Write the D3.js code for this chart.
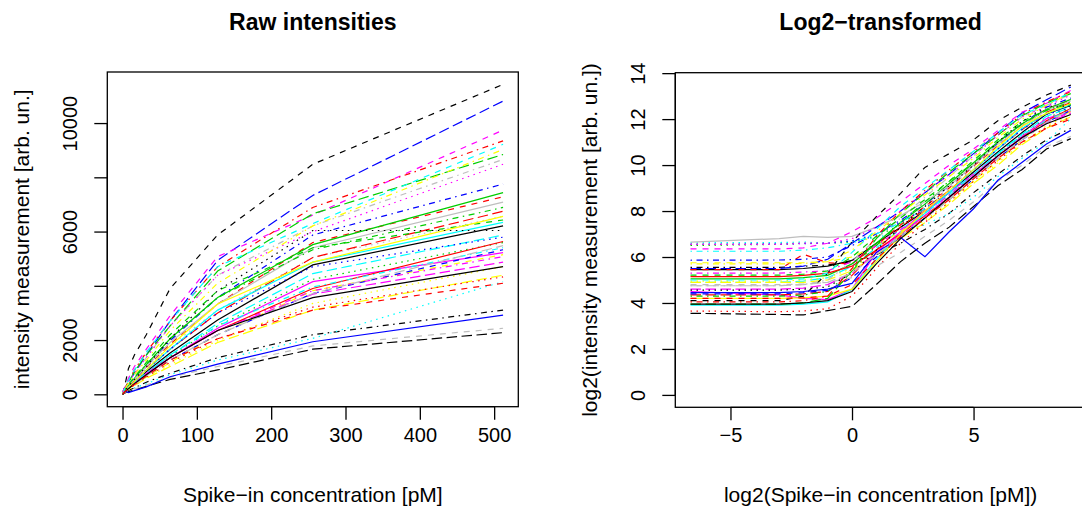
<!DOCTYPE html>
<html>
<head>
<meta charset="utf-8">
<script src="https://cdn.jsdelivr.net/npm/d3@7"></script>
<style>
  body { margin: 0; background: #fff; }
  svg { display: block; font-family: "Liberation Sans", Arial, Helvetica, sans-serif; }
</style>
</head>
<body>
<div id="chart"></div>
<script>
// spike-in concentrations in pM (0 pM is put at 0.01 so it can go on the log2 scale)
const concentrations = [0.01, 0.125, 0.25, 0.5, 1, 2, 4, 8, 16, 32, 64, 128, 256, 512];

// log2 intensities, one row per spike-in probe set, one value per concentration
const log2Intensities = [
  [5.45, 5.45, 5.5, 5.6, 5.85, 6.6, 7.3, 8.0, 8.8, 9.7, 10.57, 11.42, 12.22, 12.60],
  [5.45, 5.45, 6.12, 5.75, 5.7, 6.5, 7.4, 8.2, 9.0, 9.95, 10.85, 11.7, 12.45, 12.83],
  [6.5, 6.55, 6.6, 6.6, 6.65, 6.9, 7.4, 8.0, 8.7, 9.5, 10.45, 11.3, 12.05, 12.45],
  [5.86, 5.87, 5.9, 6.0, 6.5, 7.0, 7.6, 8.3, 9.1, 10.0, 10.95, 11.8, 12.52, 12.92],
  [4.9, 4.9, 4.95, 5.1, 5.6, 6.4, 7.2, 7.9, 8.7, 9.6, 10.5, 11.35, 12.12, 12.52],
  [4.5, 4.35, 4.2, 4.15, 4.6, 6.2, 7.1, 8.0, 8.8, 9.6, 10.4, 11.25, 12.02, 12.35],
  [5.75, 5.75, 5.75, 5.8, 6.0, 6.5, 7.1, 7.8, 8.5, 9.3, 10.2, 11.1, 11.9, 12.33],
  [6.58, 6.6, 6.62, 6.6, 6.7, 7.0, 7.5, 8.2, 9.0, 9.9, 10.8, 11.6, 12.3, 12.68],
  [5.55, 5.55, 5.6, 5.65, 5.8, 6.1, 6.6, 7.2, 7.9, 8.8, 9.6, 10.4, 11.1, 11.6],
  [4.35, 4.35, 4.4, 4.5, 5.2, 6.3, 7.3, 8.1, 8.9, 9.8, 10.7, 11.55, 12.3, 12.72],
  [5.05, 5.05, 5.1, 5.2, 5.7, 6.6, 7.5, 8.3, 9.2, 10.1, 11.0, 11.8, 12.43, 12.86],
  [4.4, 4.4, 4.45, 4.55, 5.1, 6.0, 6.9, 7.7, 8.5, 9.4, 10.3, 11.1, 11.86, 12.38],
  [6.62, 6.63, 6.65, 6.6, 6.7, 6.85, 7.1, 7.4, 7.9, 8.6, 9.5, 10.3, 11.01, 12.02],
  [5.3, 5.3, 5.35, 5.4, 5.8, 6.5, 7.2, 7.9, 8.7, 9.5, 10.4, 11.2, 11.9, 12.31],
  [4.9, 4.9, 4.9, 5.0, 5.4, 6.1, 6.8, 7.5, 8.3, 9.2, 10.0, 10.9, 11.6, 12.10],
  [6.65, 6.8, 6.9, 6.85, 6.9, 7.3, 7.8, 8.4, 9.1, 10.0, 10.9, 11.7, 12.4, 12.79],
  [4.1, 4.1, 4.3, 5.3, 6.66, 7.75, 8.77, 9.9, 10.5, 11.1, 11.93, 12.52, 13.05, 13.48],
  [3.65, 3.62, 3.65, 3.75, 4.3, 5.5, 6.6, 7.5, 8.4, 9.3, 10.2, 11.0, 11.65, 12.08],
  [4.3, 4.3, 4.35, 4.5, 5.4, 6.5, 7.5, 8.4, 9.3, 10.1, 11.0, 11.8, 12.38, 12.75],
  [5.5, 5.5, 5.6, 5.9, 6.6, 7.3, 8.0, 8.8, 9.6, 10.5, 11.4, 12.27, 12.84, 13.40],
  [3.9, 3.9, 3.95, 4.05, 4.6, 5.9, 7.0, 7.9, 8.8, 9.8, 10.7, 11.6, 12.25, 12.63],
  [6.35, 6.35, 6.4, 6.6, 7.1, 7.7, 8.4, 9.2, 10.0, 10.7, 11.5, 12.31, 12.69, 13.25],
  [4.95, 4.95, 5.0, 5.1, 5.5, 6.2, 6.9, 7.6, 8.4, 9.2, 10.1, 10.95, 11.71, 12.20],
  [4.75, 4.75, 4.8, 5.0, 5.8, 6.8, 7.7, 8.6, 9.5, 10.4, 11.3, 12.1, 12.6, 13.08],
  [3.55, 3.5, 3.48, 3.67, 3.85, 4.8, 5.8, 6.6, 7.3, 8.2, 9.1, 9.81, 10.70, 11.15],
  [5.15, 5.15, 5.2, 5.3, 5.6, 6.3, 7.0, 7.8, 8.6, 9.5, 10.4, 11.2, 11.93, 12.46],
  [5.21, 5.21, 5.25, 5.4, 6.0, 6.9, 7.7, 8.5, 9.3, 10.2, 11.1, 11.9, 12.4, 12.65],
  [6.55, 6.56, 6.58, 6.6, 6.7, 7.0, 7.5, 8.1, 8.9, 9.8, 10.7, 11.55, 12.2, 12.50],
  [6.25, 6.25, 6.3, 6.4, 6.6, 7.0, 7.5, 8.1, 8.8, 9.6, 10.5, 11.3, 11.95, 12.40],
  [4.6, 4.6, 4.65, 4.8, 5.3, 6.2, 7.0, 7.8, 8.6, 9.5, 10.4, 11.2, 11.85, 12.25],
  [4.2, 4.2, 4.22, 4.3, 4.6, 5.8, 7.0, 8.0, 8.9, 9.8, 10.8, 11.7, 12.25, 12.68],
  [4.8, 4.8, 4.82, 4.9, 5.1, 5.6, 6.2, 6.9, 7.6, 8.4, 9.3, 10.0, 10.8, 11.25],
  [4.56, 4.56, 4.6, 4.7, 5.3, 6.3, 7.3, 8.2, 9.1, 10.0, 11.0, 11.9, 12.56, 12.56],
  [4.05, 4.05, 4.1, 4.3, 5.5, 6.9, 8.0, 8.9, 9.8, 10.6, 11.4, 12.2, 12.75, 13.19],
  [3.95, 3.95, 4.0, 4.2, 5.4, 6.8, 7.9, 8.8, 9.7, 10.5, 11.3, 12.15, 12.7, 13.11],
  [4.45, 4.45, 4.5, 4.6, 4.85, 6.2, 6.85, 6.01, 7.1, 8.1, 9.34, 10.12, 10.92, 11.51],
  [5.0, 5.0, 5.05, 5.3, 6.2, 7.2, 8.2, 9.0, 9.8, 10.6, 11.4, 12.2, 12.62, 13.17],
  [6.55, 6.55, 6.6, 6.6, 6.8, 7.3, 8.0, 8.8, 9.6, 10.4, 11.3, 12.1, 12.55, 13.05],
  [5.7, 5.7, 5.72, 5.8, 6.3, 7.1, 7.9, 8.7, 9.5, 10.3, 11.2, 12.0, 12.6, 13.14],
  [4.75, 4.75, 4.8, 4.9, 5.3, 6.1, 6.9, 7.7, 8.5, 9.4, 10.3, 11.1, 11.86, 12.42],
  [3.95, 3.95, 4.0, 4.1, 4.5, 5.7, 6.8, 7.7, 8.6, 9.5, 10.4, 11.2, 11.8, 12.20],
  [4.2, 4.2, 4.22, 4.3, 4.8, 5.9, 6.9, 7.7, 8.5, 9.4, 10.3, 11.0, 11.6, 12.0]
];

// matplot colours / line types, recycled
const lineColors = ["#000000", "#FF0000", "#00CD00", "#0000FF", "#00FFFF", "#FF00FF", "#FFFF00", "#BEBEBE"];
const lineTypes = ["none", "6,6", "1.5,4.5", "1.5,4.5,6,4.5", "10.5,4.5"];

const rawXTicks = [0, 100, 200, 300, 400, 500];
const rawYTicks = [0, 2000, 4000, 6000, 8000, 10000];
const rawYLabels = ["0", "2000", "", "6000", "", "10000"];
const logXTicks = [-5, 0, 5];
const logXLabels = ["\u22125", "0", "5"];
const logYTicks = [0, 2, 4, 6, 8, 10, 12, 14];

const W = 1082, H = 509;
const svg = d3.select("#chart").append("svg")
  .attr("width", W)
  .attr("height", H);

// R-like 4% padding of the axis ranges
const pad = (lo, hi) => { const r = hi - lo; return [lo - 0.04 * r, hi + 0.04 * r]; };

const rawSeries = log2Intensities.map(row => row.map((v, i) => [concentrations[i], Math.pow(2, v)]));
const logSeries = log2Intensities.map(row => row.map((v, i) => [Math.log2(concentrations[i]), v]));

function panel(opts) {
  const { left, right, top, bottom, xDomain, yDomain, series, xTicks, xLabels, yTicks, yLabels, title, xTitle, yTitle, id } = opts;
  const x = d3.scaleLinear().domain(xDomain).range([left, right]);
  const y = d3.scaleLinear().domain(yDomain).range([bottom, top]);
  const g = svg.append("g");

  g.append("clipPath").attr("id", id)
    .append("rect").attr("x", left).attr("y", top).attr("width", right - left).attr("height", bottom - top);

  const line = d3.line().x(d => x(d[0])).y(d => y(d[1]));
  g.append("g").attr("clip-path", `url(#${id})`)
    .selectAll("path")
    .data(series)
    .enter()
    .append("path")
    .attr("d", line)
    .attr("fill", "none")
    .attr("stroke", (d, i) => lineColors[i % lineColors.length])
    .attr("stroke-width", 1.2)
    .attr("stroke-dasharray", (d, i) => lineTypes[i % lineTypes.length]);

  // box
  g.append("rect")
    .attr("x", left).attr("y", top)
    .attr("width", right - left).attr("height", bottom - top)
    .attr("fill", "none").attr("stroke", "#000").attr("stroke-width", 1.3);

  // bottom axis
  const xa = g.append("g").attr("transform", `translate(0,${bottom})`)
    .call(d3.axisBottom(x).tickValues(xTicks).tickFormat((d, i) => xLabels[i]).tickSize(13).tickSizeOuter(0).tickPadding(8));
  xa.select(".domain").remove();
  xa.append("line").attr("x1", x(xTicks[0])).attr("x2", x(xTicks[xTicks.length - 1]))
    .attr("stroke", "#000").attr("stroke-width", 1.3);
  xa.selectAll("line").attr("stroke-width", 1.3);
  xa.selectAll("text").attr("font-size", 20).attr("fill", "#000").attr("font-family", null);

  // left axis, labels parallel to the axis
  const ya = g.append("g").attr("transform", `translate(${left},0)`)
    .call(d3.axisLeft(y).tickValues(yTicks).tickFormat((d, i) => yLabels[i]).tickSize(13).tickSizeOuter(0));
  ya.select(".domain").remove();
  ya.append("line").attr("y1", y(yTicks[0])).attr("y2", y(yTicks[yTicks.length - 1]))
    .attr("stroke", "#000").attr("stroke-width", 1.3);
  ya.selectAll("line").attr("stroke-width", 1.3);
  ya.selectAll("text")
    .attr("font-size", 20).attr("fill", "#000").attr("font-family", null)
    .attr("transform", "rotate(-90)")
    .attr("x", 0).attr("y", -30).attr("dy", 0)
    .style("text-anchor", "middle");

  g.append("text")
    .attr("x", (left + right) / 2).attr("y", 30)
    .attr("text-anchor", "middle")
    .attr("font-size", 23).attr("font-weight", "bold")
    .text(title);

  g.append("text")
    .attr("x", (left + right) / 2).attr("y", 502)
    .attr("text-anchor", "middle")
    .attr("font-size", 21)
    .text(xTitle);

  g.append("text")
    .attr("transform", `translate(${left - 78},${(top + bottom) / 2}) rotate(-90)`)
    .attr("text-anchor", "middle")
    .attr("font-size", 21)
    .text(yTitle);
}

const rawMax = d3.max(rawSeries, s => d3.max(s, d => d[1]));
panel({
  id: "clipRaw",
  left: 107.3, right: 518.3, top: 72, bottom: 406.7,
  xDomain: pad(0, 512),
  yDomain: pad(0, rawMax),
  series: rawSeries,
  xTicks: rawXTicks, xLabels: rawXTicks.map(String),
  yTicks: rawYTicks, yLabels: rawYLabels,
  title: "Raw intensities",
  xTitle: "Spike\u2212in concentration [pM]",
  yTitle: "intensity measurement [arb. un.]"
});

const logMax = d3.max(logSeries, s => d3.max(s, d => d[1]));
panel({
  id: "clipLog",
  left: 675.3, right: 1086, top: 72.7, bottom: 407.3,
  xDomain: pad(Math.log2(concentrations[0]), Math.log2(concentrations[concentrations.length - 1])),
  yDomain: pad(0, logMax),
  series: logSeries,
  xTicks: logXTicks, xLabels: logXLabels,
  yTicks: logYTicks, yLabels: logYTicks.map(String),
  title: "Log2\u2212transformed",
  xTitle: "log2(Spike\u2212in concentration [pM])",
  yTitle: "log2(intensity measurement [arb. un.])"
});
</script>
</body>
</html>
